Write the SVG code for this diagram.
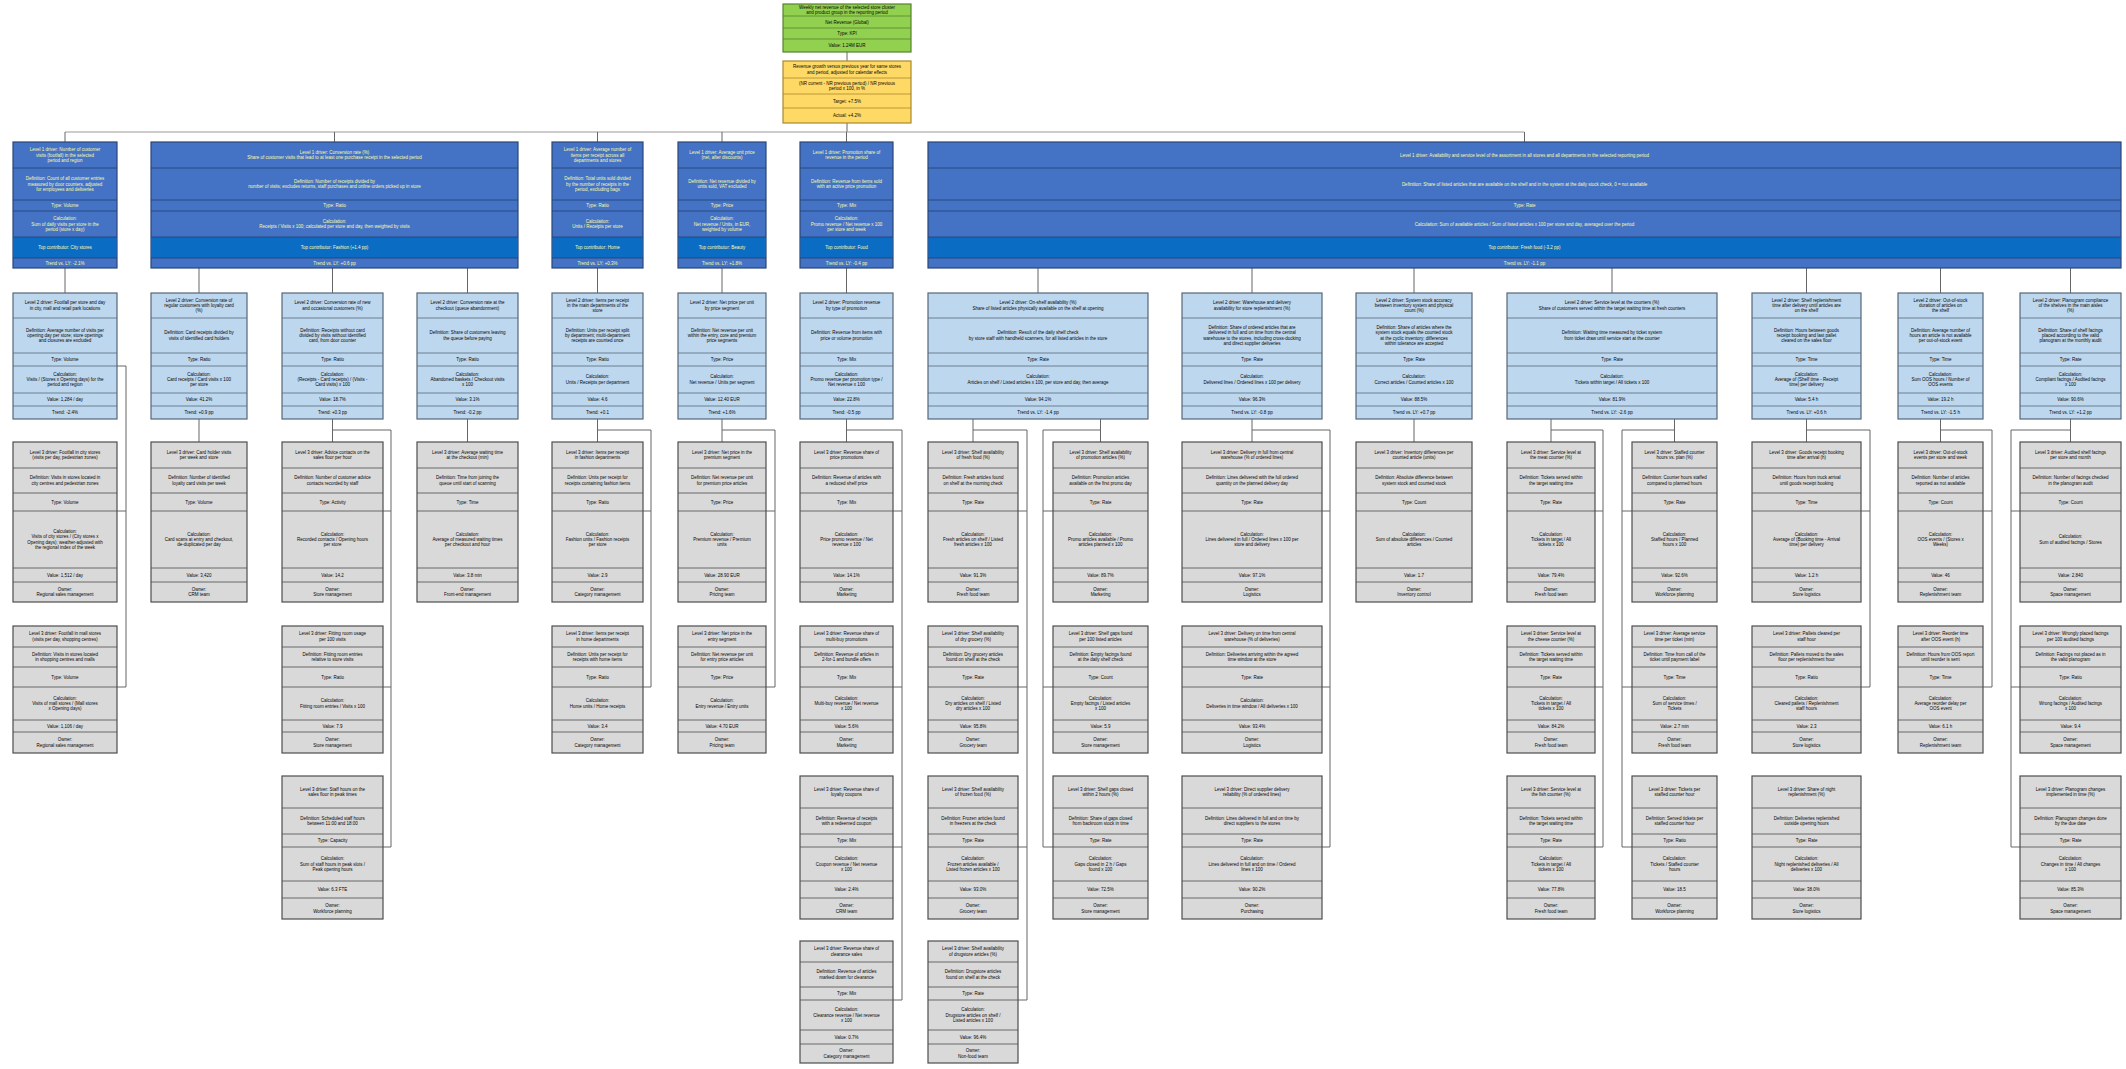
<svg xmlns="http://www.w3.org/2000/svg" width="2126" height="1069" viewBox="0 0 2126 1069">
<style>
text{font-family:"Liberation Sans",Arial,sans-serif;font-size:4.5px;text-anchor:middle;fill:#050505}
.b{stroke:#4d4d4d;stroke-width:1.2}
.gr .b{fill:#d9d9d9}
.lb .b{fill:#bdd7ee;stroke:#56677a}
.bl .b{fill:#4472c4;stroke:#2a4677}
.bl .h{fill:#0b6cc3}
.bl text{fill:#fbfba6}
.gn .b{fill:#92d050;stroke:#55832d}
.ye .b{fill:#ffd966;stroke:#a8892e}
.d{fill:none;stroke:#4d4d4d;stroke-width:.8}
.lb .d{stroke:#56677a}
.bl .d{stroke:#23406e}
.gn .d{stroke:#55832d}
.ye .d{stroke:#a8892e}
.c path{fill:none;stroke:#666;stroke-width:1}
.c path.bus{stroke:#9a9a9a}
</style>
<rect width="2126" height="1069" fill="#fff"/>
<g id="connectors" class="c">
<path d="M847 52V61M847 123V132"/>
<path class="bus" d="M65 132H1524.5"/>
<path d="M65 132V142M334.5 132V142M597.5 132V142M722 132V142M846.5 132V142M1524.5 132V142"/>
<path d="M65 268V293M199 268V293M332.5 268V293M467.5 268V293M597.5 268V293M722 268V293M846.5 268V293M1038 268V293M1252 268V293M1414 268V293M1612 268V293M1806.5 268V293M1940.5 268V293M2070.5 268V293"/>
<path d="M117 366H126V687M117 511H126M117 687H126"/>
<path d="M199 419V442M467.5 419V442M1414 419V442"/>
<path d="M332.5 419V442M332.5 430H391V847M383 511H391M383 687H391M383 847H391"/>
<path d="M597.5 419V442M597.5 430H651V687M643 511H651M643 687H651"/>
<path d="M722 419V442M722 430H775V687M766 511H775M766 687H775"/>
<path d="M846.5 419V442M846.5 430H902V1000M893 511H902M893 687H902M893 847H902M893 1000H902"/>
<path d="M973 419V442M973 430H1027V1000M1018 511H1027M1018 687H1027M1018 847H1027M1018 1000H1027"/>
<path d="M1100.5 419V442M1100.5 430H1043V847M1043 511H1053M1043 687H1053M1043 847H1053"/>
<path d="M1252 419V442M1252 430H1330V847M1322 511H1330M1322 687H1330M1322 847H1330"/>
<path d="M1551 419V442M1551 430H1603V847M1595 511H1603M1595 687H1603M1595 847H1603"/>
<path d="M1674.5 419V442M1674.5 430H1622V847M1622 511H1632M1622 687H1632M1622 847H1632"/>
<path d="M1806.5 419V442M1806.5 430H1870V687M1861 511H1870M1861 687H1870"/>
<path d="M1940.5 419V442M1940.5 430H1992V687M1983 511H1992M1983 687H1992"/>
<path d="M2070.5 419V442M2070.5 430H2011V847M2011 511H2020M2011 687H2020M2011 847H2020"/>
</g>

<g id="n-root" class="gn" transform="translate(847 4)">
<rect class="b" x="-64" width="128" height="48"/>
<path class="d" d="M-64 12H64M-64 24H64M-64 35H64"/>
<text y="4.9">Weekly net revenue of the selected store cluster</text>
<text y="10.1">and product group in the reporting period</text>
<text y="19.5">Net Revenue (Global)</text>
<text y="31">Type: KPI</text>
<text y="43">Value: 1.24M EUR</text>
</g>

<g id="n-growth" class="ye" transform="translate(847 61)">
<rect class="b" x="-64" width="128" height="62"/>
<path class="d" d="M-64 17H64M-64 33H64M-64 47H64"/>
<text y="7.4">Revenue growth versus previous year for same stores</text>
<text y="12.6">and period, adjusted for calendar effects</text>
<text y="23.9">(NR current - NR previous period) / NR previous</text>
<text y="29.1">period x 100, in %</text>
<text y="41.5">Target: +7.5%</text>
<text y="56">Actual: +4.2%</text>
</g>

<g id="n-b1" class="bl" transform="translate(65 142)">
<rect class="b" x="-52" width="104" height="126"/>
<rect class="h" x="-51.4" y="95" width="102.8" height="21"/>
<path class="d" d="M-52 26H52M-52 58H52M-52 69H52M-52 95H52M-52 116H52"/>
<text y="9.3">Level 1 driver: Number of customer</text>
<text y="14.5">visits (footfall) in the selected</text>
<text y="19.7">period and region</text>
<text y="38.3">Definition: Count of all customer entries</text>
<text y="43.5">measured by door counters, adjusted</text>
<text y="48.7">for employees and deliveries</text>
<text y="65">Type: Volume</text>
<text y="78.3">Calculation:</text>
<text y="83.5">Sum of daily visits per store in the</text>
<text y="88.7">period (store x day)</text>
<text y="107">Top contributor: City stores</text>
<text y="122.5">Trend vs. LY: -2.1%</text>
</g>

<g id="n-b2" class="bl" transform="translate(334.5 142)">
<rect class="b" x="-183.5" width="367" height="126"/>
<rect class="h" x="-182.9" y="95" width="365.8" height="21"/>
<path class="d" d="M-183.5 26H183.5M-183.5 58H183.5M-183.5 69H183.5M-183.5 95H183.5M-183.5 116H183.5"/>
<text y="11.9">Level 1 driver: Conversion rate (%)</text>
<text y="17.1">Share of customer visits that lead to at least one purchase receipt in the selected period</text>
<text y="40.9">Definition: Number of receipts divided by</text>
<text y="46.1">number of visits; excludes returns, staff purchases and online orders picked up in store</text>
<text y="65">Type: Ratio</text>
<text y="80.9">Calculation:</text>
<text y="86.1">Receipts / Visits x 100; calculated per store and day, then weighted by visits</text>
<text y="107">Top contributor: Fashion (+1.4 pp)</text>
<text y="122.5">Trend vs. LY: +0.6 pp</text>
</g>

<g id="n-b3" class="bl" transform="translate(597.5 142)">
<rect class="b" x="-45.5" width="91" height="126"/>
<rect class="h" x="-44.9" y="95" width="89.8" height="21"/>
<path class="d" d="M-45.5 26H45.5M-45.5 58H45.5M-45.5 69H45.5M-45.5 95H45.5M-45.5 116H45.5"/>
<text y="9.3">Level 1 driver: Average number of</text>
<text y="14.5">items per receipt across all</text>
<text y="19.7">departments and stores</text>
<text y="38.3">Definition: Total units sold divided</text>
<text y="43.5">by the number of receipts in the</text>
<text y="48.7">period, excluding bags</text>
<text y="65">Type: Ratio</text>
<text y="80.9">Calculation:</text>
<text y="86.1">Units / Receipts per store</text>
<text y="107">Top contributor: Home</text>
<text y="122.5">Trend vs. LY: +0.3%</text>
</g>

<g id="n-b4" class="bl" transform="translate(722 142)">
<rect class="b" x="-44" width="88" height="126"/>
<rect class="h" x="-43.4" y="95" width="86.8" height="21"/>
<path class="d" d="M-44 26H44M-44 58H44M-44 69H44M-44 95H44M-44 116H44"/>
<text y="11.9">Level 1 driver: Average unit price</text>
<text y="17.1">(net, after discounts)</text>
<text y="40.9">Definition: Net revenue divided by</text>
<text y="46.1">units sold, VAT excluded</text>
<text y="65">Type: Price</text>
<text y="78.3">Calculation:</text>
<text y="83.5">Net revenue / Units, in EUR,</text>
<text y="88.7">weighted by volume</text>
<text y="107">Top contributor: Beauty</text>
<text y="122.5">Trend vs. LY: +1.8%</text>
</g>

<g id="n-b5" class="bl" transform="translate(846.5 142)">
<rect class="b" x="-46.5" width="93" height="126"/>
<rect class="h" x="-45.9" y="95" width="91.8" height="21"/>
<path class="d" d="M-46.5 26H46.5M-46.5 58H46.5M-46.5 69H46.5M-46.5 95H46.5M-46.5 116H46.5"/>
<text y="11.9">Level 1 driver: Promotion share of</text>
<text y="17.1">revenue in the period</text>
<text y="40.9">Definition: Revenue from items sold</text>
<text y="46.1">with an active price promotion</text>
<text y="65">Type: Mix</text>
<text y="78.3">Calculation:</text>
<text y="83.5">Promo revenue / Net revenue x 100</text>
<text y="88.7">per store and week</text>
<text y="107">Top contributor: Food</text>
<text y="122.5">Trend vs. LY: -0.4 pp</text>
</g>

<g id="n-b6" class="bl" transform="translate(1524.5 142)">
<rect class="b" x="-596.5" width="1193" height="126"/>
<rect class="h" x="-595.9" y="95" width="1191.8" height="21"/>
<path class="d" d="M-596.5 26H596.5M-596.5 58H596.5M-596.5 69H596.5M-596.5 95H596.5M-596.5 116H596.5"/>
<text y="14.5">Level 1 driver: Availability and service level of the assortment in all stores and all departments in the selected reporting period</text>
<text y="43.5">Definition: Share of listed articles that are available on the shelf and in the system at the daily stock check, 0 = not available</text>
<text y="65">Type: Rate</text>
<text y="83.5">Calculation: Sum of available articles / Sum of listed articles x 100 per store and day, averaged over the period</text>
<text y="107">Top contributor: Fresh food (-3.2 pp)</text>
<text y="122.5">Trend vs. LY: -1.1 pp</text>
</g>

<g id="n-l1" class="lb" transform="translate(65 293)">
<rect class="b" x="-52" width="104" height="126"/>
<path class="d" d="M-52 25H52M-52 60H52M-52 73H52M-52 100H52M-52 113H52"/>
<text y="11.4">Level 2 driver: Footfall per store and day</text>
<text y="16.6">in city, mall and retail park locations</text>
<text y="38.8">Definition: Average number of visits per</text>
<text y="44">opening day per store; store openings</text>
<text y="49.2">and closures are excluded</text>
<text y="68">Type: Volume</text>
<text y="82.8">Calculation:</text>
<text y="88">Visits / (Stores x Opening days) for the</text>
<text y="93.2">period and region</text>
<text y="108">Value: 1,284 / day</text>
<text y="121">Trend: -2.4%</text>
</g>

<g id="n-l2a" class="lb" transform="translate(199 293)">
<rect class="b" x="-48" width="96" height="126"/>
<path class="d" d="M-48 25H48M-48 60H48M-48 73H48M-48 100H48M-48 113H48"/>
<text y="8.8">Level 2 driver: Conversion rate of</text>
<text y="14">regular customers with loyalty card</text>
<text y="19.2">(%)</text>
<text y="41.4">Definition: Card receipts divided by</text>
<text y="46.6">visits of identified card holders</text>
<text y="68">Type: Ratio</text>
<text y="82.8">Calculation:</text>
<text y="88">Card receipts / Card visits x 100</text>
<text y="93.2">per store</text>
<text y="108">Value: 41.2%</text>
<text y="121">Trend: +0.9 pp</text>
</g>

<g id="n-l2b" class="lb" transform="translate(332.5 293)">
<rect class="b" x="-50.5" width="101" height="126"/>
<path class="d" d="M-50.5 25H50.5M-50.5 60H50.5M-50.5 73H50.5M-50.5 100H50.5M-50.5 113H50.5"/>
<text y="11.4">Level 2 driver: Conversion rate of new</text>
<text y="16.6">and occasional customers (%)</text>
<text y="38.8">Definition: Receipts without card</text>
<text y="44">divided by visits without identified</text>
<text y="49.2">card, from door counter</text>
<text y="68">Type: Ratio</text>
<text y="82.8">Calculation:</text>
<text y="88">(Receipts - Card receipts) / (Visits -</text>
<text y="93.2">Card visits) x 100</text>
<text y="108">Value: 18.7%</text>
<text y="121">Trend: +0.3 pp</text>
</g>

<g id="n-l2c" class="lb" transform="translate(467.5 293)">
<rect class="b" x="-50.5" width="101" height="126"/>
<path class="d" d="M-50.5 25H50.5M-50.5 60H50.5M-50.5 73H50.5M-50.5 100H50.5M-50.5 113H50.5"/>
<text y="11.4">Level 2 driver: Conversion rate at the</text>
<text y="16.6">checkout (queue abandonment)</text>
<text y="41.4">Definition: Share of customers leaving</text>
<text y="46.6">the queue before paying</text>
<text y="68">Type: Ratio</text>
<text y="82.8">Calculation:</text>
<text y="88">Abandoned baskets / Checkout visits</text>
<text y="93.2">x 100</text>
<text y="108">Value: 3.1%</text>
<text y="121">Trend: -0.2 pp</text>
</g>

<g id="n-l3" class="lb" transform="translate(597.5 293)">
<rect class="b" x="-45.5" width="91" height="126"/>
<path class="d" d="M-45.5 25H45.5M-45.5 60H45.5M-45.5 73H45.5M-45.5 100H45.5M-45.5 113H45.5"/>
<text y="8.8">Level 2 driver: Items per receipt</text>
<text y="14">in the main departments of the</text>
<text y="19.2">store</text>
<text y="38.8">Definition: Units per receipt split</text>
<text y="44">by department; multi-department</text>
<text y="49.2">receipts are counted once</text>
<text y="68">Type: Ratio</text>
<text y="85.4">Calculation:</text>
<text y="90.6">Units / Receipts per department</text>
<text y="108">Value: 4.6</text>
<text y="121">Trend: +0.1</text>
</g>

<g id="n-l4" class="lb" transform="translate(722 293)">
<rect class="b" x="-44" width="88" height="126"/>
<path class="d" d="M-44 25H44M-44 60H44M-44 73H44M-44 100H44M-44 113H44"/>
<text y="11.4">Level 2 driver: Net price per unit</text>
<text y="16.6">by price segment</text>
<text y="38.8">Definition: Net revenue per unit</text>
<text y="44">within the entry, core and premium</text>
<text y="49.2">price segments</text>
<text y="68">Type: Price</text>
<text y="85.4">Calculation:</text>
<text y="90.6">Net revenue / Units per segment</text>
<text y="108">Value: 12.40 EUR</text>
<text y="121">Trend: +1.6%</text>
</g>

<g id="n-l5" class="lb" transform="translate(846.5 293)">
<rect class="b" x="-46.5" width="93" height="126"/>
<path class="d" d="M-46.5 25H46.5M-46.5 60H46.5M-46.5 73H46.5M-46.5 100H46.5M-46.5 113H46.5"/>
<text y="11.4">Level 2 driver: Promotion revenue</text>
<text y="16.6">by type of promotion</text>
<text y="41.4">Definition: Revenue from items with</text>
<text y="46.6">price or volume promotion</text>
<text y="68">Type: Mix</text>
<text y="82.8">Calculation:</text>
<text y="88">Promo revenue per promotion type /</text>
<text y="93.2">Net revenue x 100</text>
<text y="108">Value: 22.8%</text>
<text y="121">Trend: -0.5 pp</text>
</g>

<g id="n-l6a" class="lb" transform="translate(1038 293)">
<rect class="b" x="-110" width="220" height="126"/>
<path class="d" d="M-110 25H110M-110 60H110M-110 73H110M-110 100H110M-110 113H110"/>
<text y="11.4">Level 2 driver: On-shelf availability (%)</text>
<text y="16.6">Share of listed articles physically available on the shelf at opening</text>
<text y="41.4">Definition: Result of the daily shelf check</text>
<text y="46.6">by store staff with handheld scanners, for all listed articles in the store</text>
<text y="68">Type: Rate</text>
<text y="85.4">Calculation:</text>
<text y="90.6">Articles on shelf / Listed articles x 100, per store and day, then average</text>
<text y="108">Value: 94.1%</text>
<text y="121">Trend vs. LY: -1.4 pp</text>
</g>

<g id="n-l6b" class="lb" transform="translate(1252 293)">
<rect class="b" x="-70" width="140" height="126"/>
<path class="d" d="M-70 25H70M-70 60H70M-70 73H70M-70 100H70M-70 113H70"/>
<text y="11.4">Level 2 driver: Warehouse and delivery</text>
<text y="16.6">availability for store replenishment (%)</text>
<text y="36.2">Definition: Share of ordered articles that are</text>
<text y="41.4">delivered in full and on time from the central</text>
<text y="46.6">warehouse to the stores, including cross-docking</text>
<text y="51.8">and direct supplier deliveries</text>
<text y="68">Type: Rate</text>
<text y="85.4">Calculation:</text>
<text y="90.6">Delivered lines / Ordered lines x 100 per delivery</text>
<text y="108">Value: 96.3%</text>
<text y="121">Trend vs. LY: -0.8 pp</text>
</g>

<g id="n-l6c" class="lb" transform="translate(1414 293)">
<rect class="b" x="-58" width="116" height="126"/>
<path class="d" d="M-58 25H58M-58 60H58M-58 73H58M-58 100H58M-58 113H58"/>
<text y="8.8">Level 2 driver: System stock accuracy</text>
<text y="14">between inventory system and physical</text>
<text y="19.2">count (%)</text>
<text y="36.2">Definition: Share of articles where the</text>
<text y="41.4">system stock equals the counted stock</text>
<text y="46.6">at the cyclic inventory; differences</text>
<text y="51.8">within tolerance are accepted</text>
<text y="68">Type: Rate</text>
<text y="85.4">Calculation:</text>
<text y="90.6">Correct articles / Counted articles x 100</text>
<text y="108">Value: 88.5%</text>
<text y="121">Trend vs. LY: +0.7 pp</text>
</g>

<g id="n-l6d" class="lb" transform="translate(1612 293)">
<rect class="b" x="-105" width="210" height="126"/>
<path class="d" d="M-105 25H105M-105 60H105M-105 73H105M-105 100H105M-105 113H105"/>
<text y="11.4">Level 2 driver: Service level at the counters (%)</text>
<text y="16.6">Share of customers served within the target waiting time at fresh counters</text>
<text y="41.4">Definition: Waiting time measured by ticket system</text>
<text y="46.6">from ticket draw until service start at the counter</text>
<text y="68">Type: Rate</text>
<text y="85.4">Calculation:</text>
<text y="90.6">Tickets within target / All tickets x 100</text>
<text y="108">Value: 81.9%</text>
<text y="121">Trend vs. LY: -2.6 pp</text>
</g>

<g id="n-l6e" class="lb" transform="translate(1806.5 293)">
<rect class="b" x="-54.5" width="109" height="126"/>
<path class="d" d="M-54.5 25H54.5M-54.5 60H54.5M-54.5 73H54.5M-54.5 100H54.5M-54.5 113H54.5"/>
<text y="8.8">Level 2 driver: Shelf replenishment</text>
<text y="14">time after delivery until articles are</text>
<text y="19.2">on the shelf</text>
<text y="38.8">Definition: Hours between goods</text>
<text y="44">receipt booking and last pallet</text>
<text y="49.2">cleared on the sales floor</text>
<text y="68">Type: Time</text>
<text y="82.8">Calculation:</text>
<text y="88">Average of (Shelf time - Receipt</text>
<text y="93.2">time) per delivery</text>
<text y="108">Value: 5.4 h</text>
<text y="121">Trend vs. LY: +0.6 h</text>
</g>

<g id="n-l6f" class="lb" transform="translate(1940.5 293)">
<rect class="b" x="-42.5" width="85" height="126"/>
<path class="d" d="M-42.5 25H42.5M-42.5 60H42.5M-42.5 73H42.5M-42.5 100H42.5M-42.5 113H42.5"/>
<text y="8.8">Level 2 driver: Out-of-stock</text>
<text y="14">duration of articles on</text>
<text y="19.2">the shelf</text>
<text y="38.8">Definition: Average number of</text>
<text y="44">hours an article is not available</text>
<text y="49.2">per out-of-stock event</text>
<text y="68">Type: Time</text>
<text y="82.8">Calculation:</text>
<text y="88">Sum OOS hours / Number of</text>
<text y="93.2">OOS events</text>
<text y="108">Value: 19.2 h</text>
<text y="121">Trend vs. LY: -1.5 h</text>
</g>

<g id="n-l6g" class="lb" transform="translate(2070.5 293)">
<rect class="b" x="-50.5" width="101" height="126"/>
<path class="d" d="M-50.5 25H50.5M-50.5 60H50.5M-50.5 73H50.5M-50.5 100H50.5M-50.5 113H50.5"/>
<text y="8.8">Level 2 driver: Planogram compliance</text>
<text y="14">of the shelves in the main aisles</text>
<text y="19.2">(%)</text>
<text y="38.8">Definition: Share of shelf facings</text>
<text y="44">placed according to the valid</text>
<text y="49.2">planogram at the monthly audit</text>
<text y="68">Type: Rate</text>
<text y="82.8">Calculation:</text>
<text y="88">Compliant facings / Audited facings</text>
<text y="93.2">x 100</text>
<text y="108">Value: 90.6%</text>
<text y="121">Trend vs. LY: +1.2 pp</text>
</g>

<!-- Level 3, row 1 (top 442) -->
<g id="n-c1-1" class="gr" transform="translate(65 442)">
<rect class="b" x="-52" width="104" height="160"/>
<path class="d" d="M-52 26H52M-52 51H52M-52 69H52M-52 126H52M-52 140H52"/>
<text y="11.9">Level 3 driver: Footfall in city stores</text>
<text y="17.1">(visits per day, pedestrian zones)</text>
<text y="37.4">Definition: Visits in stores located in</text>
<text y="42.6">city centres and pedestrian zones</text>
<text y="61.5">Type: Volume</text>
<text y="91.2">Calculation:</text>
<text y="96.4">Visits of city stores / (City stores x</text>
<text y="101.6">Opening days); weather-adjusted with</text>
<text y="106.8">the regional index of the week</text>
<text y="134.5">Value: 1,512 / day</text>
<text y="148.9">Owner:</text>
<text y="154.1">Regional sales management</text>
</g>
<g id="n-c2-1" class="gr" transform="translate(199 442)">
<rect class="b" x="-48" width="96" height="160"/>
<path class="d" d="M-48 26H48M-48 51H48M-48 69H48M-48 126H48M-48 140H48"/>
<text y="11.9">Level 3 driver: Card holder visits</text>
<text y="17.1">per week and store</text>
<text y="37.4">Definition: Number of identified</text>
<text y="42.6">loyalty card visits per week</text>
<text y="61.5">Type: Volume</text>
<text y="93.8">Calculation:</text>
<text y="99">Card scans at entry and checkout,</text>
<text y="104.2">de-duplicated per day</text>
<text y="134.5">Value: 3,420</text>
<text y="148.9">Owner:</text>
<text y="154.1">CRM team</text>
</g>
<g id="n-c3-1" class="gr" transform="translate(332.5 442)">
<rect class="b" x="-50.5" width="101" height="160"/>
<path class="d" d="M-50.5 26H50.5M-50.5 51H50.5M-50.5 69H50.5M-50.5 126H50.5M-50.5 140H50.5"/>
<text y="11.9">Level 3 driver: Advice contacts on the</text>
<text y="17.1">sales floor per hour</text>
<text y="37.4">Definition: Number of customer advice</text>
<text y="42.6">contacts recorded by staff</text>
<text y="61.5">Type: Activity</text>
<text y="93.8">Calculation:</text>
<text y="99">Recorded contacts / Opening hours</text>
<text y="104.2">per store</text>
<text y="134.5">Value: 14.2</text>
<text y="148.9">Owner:</text>
<text y="154.1">Store management</text>
</g>
<g id="n-c4-1" class="gr" transform="translate(467.5 442)">
<rect class="b" x="-50.5" width="101" height="160"/>
<path class="d" d="M-50.5 26H50.5M-50.5 51H50.5M-50.5 69H50.5M-50.5 126H50.5M-50.5 140H50.5"/>
<text y="11.9">Level 3 driver: Average waiting time</text>
<text y="17.1">at the checkout (min)</text>
<text y="37.4">Definition: Time from joining the</text>
<text y="42.6">queue until start of scanning</text>
<text y="61.5">Type: Time</text>
<text y="93.8">Calculation:</text>
<text y="99">Average of measured waiting times</text>
<text y="104.2">per checkout and hour</text>
<text y="134.5">Value: 3.8 min</text>
<text y="148.9">Owner:</text>
<text y="154.1">Front-end management</text>
</g>
<g id="n-c5-1" class="gr" transform="translate(597.5 442)">
<rect class="b" x="-45.5" width="91" height="160"/>
<path class="d" d="M-45.5 26H45.5M-45.5 51H45.5M-45.5 69H45.5M-45.5 126H45.5M-45.5 140H45.5"/>
<text y="11.9">Level 3 driver: Items per receipt</text>
<text y="17.1">in fashion departments</text>
<text y="37.4">Definition: Units per receipt for</text>
<text y="42.6">receipts containing fashion items</text>
<text y="61.5">Type: Ratio</text>
<text y="93.8">Calculation:</text>
<text y="99">Fashion units / Fashion receipts</text>
<text y="104.2">per store</text>
<text y="134.5">Value: 2.9</text>
<text y="148.9">Owner:</text>
<text y="154.1">Category management</text>
</g>
<g id="n-c6-1" class="gr" transform="translate(722 442)">
<rect class="b" x="-44" width="88" height="160"/>
<path class="d" d="M-44 26H44M-44 51H44M-44 69H44M-44 126H44M-44 140H44"/>
<text y="11.9">Level 3 driver: Net price in the</text>
<text y="17.1">premium segment</text>
<text y="37.4">Definition: Net revenue per unit</text>
<text y="42.6">for premium price articles</text>
<text y="61.5">Type: Price</text>
<text y="93.8">Calculation:</text>
<text y="99">Premium revenue / Premium</text>
<text y="104.2">units</text>
<text y="134.5">Value: 28.90 EUR</text>
<text y="148.9">Owner:</text>
<text y="154.1">Pricing team</text>
</g>
<g id="n-c7-1" class="gr" transform="translate(846.5 442)">
<rect class="b" x="-46.5" width="93" height="160"/>
<path class="d" d="M-46.5 26H46.5M-46.5 51H46.5M-46.5 69H46.5M-46.5 126H46.5M-46.5 140H46.5"/>
<text y="11.9">Level 3 driver: Revenue share of</text>
<text y="17.1">price promotions</text>
<text y="37.4">Definition: Revenue of articles with</text>
<text y="42.6">a reduced shelf price</text>
<text y="61.5">Type: Mix</text>
<text y="93.8">Calculation:</text>
<text y="99">Price promo revenue / Net</text>
<text y="104.2">revenue x 100</text>
<text y="134.5">Value: 14.1%</text>
<text y="148.9">Owner:</text>
<text y="154.1">Marketing</text>
</g>
<g id="n-c8-1" class="gr" transform="translate(973 442)">
<rect class="b" x="-45" width="90" height="160"/>
<path class="d" d="M-45 26H45M-45 51H45M-45 69H45M-45 126H45M-45 140H45"/>
<text y="11.9">Level 3 driver: Shelf availability</text>
<text y="17.1">of fresh food (%)</text>
<text y="37.4">Definition: Fresh articles found</text>
<text y="42.6">on shelf at the morning check</text>
<text y="61.5">Type: Rate</text>
<text y="93.8">Calculation:</text>
<text y="99">Fresh articles on shelf / Listed</text>
<text y="104.2">fresh articles x 100</text>
<text y="134.5">Value: 91.3%</text>
<text y="148.9">Owner:</text>
<text y="154.1">Fresh food team</text>
</g>
<g id="n-c9-1" class="gr" transform="translate(1100.5 442)">
<rect class="b" x="-47.5" width="95" height="160"/>
<path class="d" d="M-47.5 26H47.5M-47.5 51H47.5M-47.5 69H47.5M-47.5 126H47.5M-47.5 140H47.5"/>
<text y="11.9">Level 3 driver: Shelf availability</text>
<text y="17.1">of promotion articles (%)</text>
<text y="37.4">Definition: Promotion articles</text>
<text y="42.6">available on the first promo day</text>
<text y="61.5">Type: Rate</text>
<text y="93.8">Calculation:</text>
<text y="99">Promo articles available / Promo</text>
<text y="104.2">articles planned x 100</text>
<text y="134.5">Value: 89.7%</text>
<text y="148.9">Owner:</text>
<text y="154.1">Marketing</text>
</g>
<g id="n-c10-1" class="gr" transform="translate(1252 442)">
<rect class="b" x="-70" width="140" height="160"/>
<path class="d" d="M-70 26H70M-70 51H70M-70 69H70M-70 126H70M-70 140H70"/>
<text y="11.9">Level 3 driver: Delivery in full from central</text>
<text y="17.1">warehouse (% of ordered lines)</text>
<text y="37.4">Definition: Lines delivered with the full ordered</text>
<text y="42.6">quantity on the planned delivery day</text>
<text y="61.5">Type: Rate</text>
<text y="93.8">Calculation:</text>
<text y="99">Lines delivered in full / Ordered lines x 100 per</text>
<text y="104.2">store and delivery</text>
<text y="134.5">Value: 97.1%</text>
<text y="148.9">Owner:</text>
<text y="154.1">Logistics</text>
</g>
<g id="n-c11-1" class="gr" transform="translate(1414 442)">
<rect class="b" x="-58" width="116" height="160"/>
<path class="d" d="M-58 26H58M-58 51H58M-58 69H58M-58 126H58M-58 140H58"/>
<text y="11.9">Level 3 driver: Inventory differences per</text>
<text y="17.1">counted article (units)</text>
<text y="37.4">Definition: Absolute difference between</text>
<text y="42.6">system stock and counted stock</text>
<text y="61.5">Type: Count</text>
<text y="93.8">Calculation:</text>
<text y="99">Sum of absolute differences / Counted</text>
<text y="104.2">articles</text>
<text y="134.5">Value: 1.7</text>
<text y="148.9">Owner:</text>
<text y="154.1">Inventory control</text>
</g>
<g id="n-c12-1" class="gr" transform="translate(1551 442)">
<rect class="b" x="-44" width="88" height="160"/>
<path class="d" d="M-44 26H44M-44 51H44M-44 69H44M-44 126H44M-44 140H44"/>
<text y="11.9">Level 3 driver: Service level at</text>
<text y="17.1">the meat counter (%)</text>
<text y="37.4">Definition: Tickets served within</text>
<text y="42.6">the target waiting time</text>
<text y="61.5">Type: Rate</text>
<text y="93.8">Calculation:</text>
<text y="99">Tickets in target / All</text>
<text y="104.2">tickets x 100</text>
<text y="134.5">Value: 79.4%</text>
<text y="148.9">Owner:</text>
<text y="154.1">Fresh food team</text>
</g>
<g id="n-c13-1" class="gr" transform="translate(1674.5 442)">
<rect class="b" x="-42.5" width="85" height="160"/>
<path class="d" d="M-42.5 26H42.5M-42.5 51H42.5M-42.5 69H42.5M-42.5 126H42.5M-42.5 140H42.5"/>
<text y="11.9">Level 3 driver: Staffed counter</text>
<text y="17.1">hours vs. plan (%)</text>
<text y="37.4">Definition: Counter hours staffed</text>
<text y="42.6">compared to planned hours</text>
<text y="61.5">Type: Rate</text>
<text y="93.8">Calculation:</text>
<text y="99">Staffed hours / Planned</text>
<text y="104.2">hours x 100</text>
<text y="134.5">Value: 92.6%</text>
<text y="148.9">Owner:</text>
<text y="154.1">Workforce planning</text>
</g>
<g id="n-c14-1" class="gr" transform="translate(1806.5 442)">
<rect class="b" x="-54.5" width="109" height="160"/>
<path class="d" d="M-54.5 26H54.5M-54.5 51H54.5M-54.5 69H54.5M-54.5 126H54.5M-54.5 140H54.5"/>
<text y="11.9">Level 3 driver: Goods receipt booking</text>
<text y="17.1">time after arrival (h)</text>
<text y="37.4">Definition: Hours from truck arrival</text>
<text y="42.6">until goods receipt booking</text>
<text y="61.5">Type: Time</text>
<text y="93.8">Calculation:</text>
<text y="99">Average of (Booking time - Arrival</text>
<text y="104.2">time) per delivery</text>
<text y="134.5">Value: 1.2 h</text>
<text y="148.9">Owner:</text>
<text y="154.1">Store logistics</text>
</g>
<g id="n-c15-1" class="gr" transform="translate(1940.5 442)">
<rect class="b" x="-42.5" width="85" height="160"/>
<path class="d" d="M-42.5 26H42.5M-42.5 51H42.5M-42.5 69H42.5M-42.5 126H42.5M-42.5 140H42.5"/>
<text y="11.9">Level 3 driver: Out-of-stock</text>
<text y="17.1">events per store and week</text>
<text y="37.4">Definition: Number of articles</text>
<text y="42.6">reported as not available</text>
<text y="61.5">Type: Count</text>
<text y="93.8">Calculation:</text>
<text y="99">OOS events / (Stores x</text>
<text y="104.2">Weeks)</text>
<text y="134.5">Value: 46</text>
<text y="148.9">Owner:</text>
<text y="154.1">Replenishment team</text>
</g>
<g id="n-c16-1" class="gr" transform="translate(2070.5 442)">
<rect class="b" x="-50.5" width="101" height="160"/>
<path class="d" d="M-50.5 26H50.5M-50.5 51H50.5M-50.5 69H50.5M-50.5 126H50.5M-50.5 140H50.5"/>
<text y="11.9">Level 3 driver: Audited shelf facings</text>
<text y="17.1">per store and month</text>
<text y="37.4">Definition: Number of facings checked</text>
<text y="42.6">in the planogram audit</text>
<text y="61.5">Type: Count</text>
<text y="96.4">Calculation:</text>
<text y="101.6">Sum of audited facings / Stores</text>
<text y="134.5">Value: 2,840</text>
<text y="148.9">Owner:</text>
<text y="154.1">Space management</text>
</g>

<!-- Level 3, row 2 (top 626) -->
<g id="n-c1-2" class="gr" transform="translate(65 626)">
<rect class="b" x="-52" width="104" height="127"/>
<path class="d" d="M-52 21H52M-52 41H52M-52 61H52M-52 94H52M-52 106H52"/>
<text y="9.4">Level 3 driver: Footfall in mall stores</text>
<text y="14.6">(visits per day, shopping centres)</text>
<text y="29.9">Definition: Visits in stores located</text>
<text y="35.1">in shopping centres and malls</text>
<text y="52.5">Type: Volume</text>
<text y="73.7">Calculation:</text>
<text y="78.9">Visits of mall stores / (Mall stores</text>
<text y="84.1">x Opening days)</text>
<text y="101.5">Value: 1,106 / day</text>
<text y="115.4">Owner:</text>
<text y="120.6">Regional sales management</text>
</g>
<g id="n-c3-2" class="gr" transform="translate(332.5 626)">
<rect class="b" x="-50.5" width="101" height="127"/>
<path class="d" d="M-50.5 21H50.5M-50.5 41H50.5M-50.5 61H50.5M-50.5 94H50.5M-50.5 106H50.5"/>
<text y="9.4">Level 3 driver: Fitting room usage</text>
<text y="14.6">per 100 visits</text>
<text y="29.9">Definition: Fitting room entries</text>
<text y="35.1">relative to store visits</text>
<text y="52.5">Type: Ratio</text>
<text y="76.3">Calculation:</text>
<text y="81.5">Fitting room entries / Visits x 100</text>
<text y="101.5">Value: 7.9</text>
<text y="115.4">Owner:</text>
<text y="120.6">Store management</text>
</g>
<g id="n-c5-2" class="gr" transform="translate(597.5 626)">
<rect class="b" x="-45.5" width="91" height="127"/>
<path class="d" d="M-45.5 21H45.5M-45.5 41H45.5M-45.5 61H45.5M-45.5 94H45.5M-45.5 106H45.5"/>
<text y="9.4">Level 3 driver: Items per receipt</text>
<text y="14.6">in home departments</text>
<text y="29.9">Definition: Units per receipt for</text>
<text y="35.1">receipts with home items</text>
<text y="52.5">Type: Ratio</text>
<text y="76.3">Calculation:</text>
<text y="81.5">Home units / Home receipts</text>
<text y="101.5">Value: 3.4</text>
<text y="115.4">Owner:</text>
<text y="120.6">Category management</text>
</g>
<g id="n-c6-2" class="gr" transform="translate(722 626)">
<rect class="b" x="-44" width="88" height="127"/>
<path class="d" d="M-44 21H44M-44 41H44M-44 61H44M-44 94H44M-44 106H44"/>
<text y="9.4">Level 3 driver: Net price in the</text>
<text y="14.6">entry segment</text>
<text y="29.9">Definition: Net revenue per unit</text>
<text y="35.1">for entry price articles</text>
<text y="52.5">Type: Price</text>
<text y="76.3">Calculation:</text>
<text y="81.5">Entry revenue / Entry units</text>
<text y="101.5">Value: 4.70 EUR</text>
<text y="115.4">Owner:</text>
<text y="120.6">Pricing team</text>
</g>
<g id="n-c7-2" class="gr" transform="translate(846.5 626)">
<rect class="b" x="-46.5" width="93" height="127"/>
<path class="d" d="M-46.5 21H46.5M-46.5 41H46.5M-46.5 61H46.5M-46.5 94H46.5M-46.5 106H46.5"/>
<text y="9.4">Level 3 driver: Revenue share of</text>
<text y="14.6">multi-buy promotions</text>
<text y="29.9">Definition: Revenue of articles in</text>
<text y="35.1">2-for-1 and bundle offers</text>
<text y="52.5">Type: Mix</text>
<text y="73.7">Calculation:</text>
<text y="78.9">Multi-buy revenue / Net revenue</text>
<text y="84.1">x 100</text>
<text y="101.5">Value: 5.6%</text>
<text y="115.4">Owner:</text>
<text y="120.6">Marketing</text>
</g>
<g id="n-c8-2" class="gr" transform="translate(973 626)">
<rect class="b" x="-45" width="90" height="127"/>
<path class="d" d="M-45 21H45M-45 41H45M-45 61H45M-45 94H45M-45 106H45"/>
<text y="9.4">Level 3 driver: Shelf availability</text>
<text y="14.6">of dry grocery (%)</text>
<text y="29.9">Definition: Dry grocery articles</text>
<text y="35.1">found on shelf at the check</text>
<text y="52.5">Type: Rate</text>
<text y="73.7">Calculation:</text>
<text y="78.9">Dry articles on shelf / Listed</text>
<text y="84.1">dry articles x 100</text>
<text y="101.5">Value: 95.8%</text>
<text y="115.4">Owner:</text>
<text y="120.6">Grocery team</text>
</g>
<g id="n-c9-2" class="gr" transform="translate(1100.5 626)">
<rect class="b" x="-47.5" width="95" height="127"/>
<path class="d" d="M-47.5 21H47.5M-47.5 41H47.5M-47.5 61H47.5M-47.5 94H47.5M-47.5 106H47.5"/>
<text y="9.4">Level 3 driver: Shelf gaps found</text>
<text y="14.6">per 100 listed articles</text>
<text y="29.9">Definition: Empty facings found</text>
<text y="35.1">at the daily shelf check</text>
<text y="52.5">Type: Count</text>
<text y="73.7">Calculation:</text>
<text y="78.9">Empty facings / Listed articles</text>
<text y="84.1">x 100</text>
<text y="101.5">Value: 5.9</text>
<text y="115.4">Owner:</text>
<text y="120.6">Store management</text>
</g>
<g id="n-c10-2" class="gr" transform="translate(1252 626)">
<rect class="b" x="-70" width="140" height="127"/>
<path class="d" d="M-70 21H70M-70 41H70M-70 61H70M-70 94H70M-70 106H70"/>
<text y="9.4">Level 3 driver: Delivery on time from central</text>
<text y="14.6">warehouse (% of deliveries)</text>
<text y="29.9">Definition: Deliveries arriving within the agreed</text>
<text y="35.1">time window at the store</text>
<text y="52.5">Type: Rate</text>
<text y="76.3">Calculation:</text>
<text y="81.5">Deliveries in time window / All deliveries x 100</text>
<text y="101.5">Value: 93.4%</text>
<text y="115.4">Owner:</text>
<text y="120.6">Logistics</text>
</g>
<g id="n-c12-2" class="gr" transform="translate(1551 626)">
<rect class="b" x="-44" width="88" height="127"/>
<path class="d" d="M-44 21H44M-44 41H44M-44 61H44M-44 94H44M-44 106H44"/>
<text y="9.4">Level 3 driver: Service level at</text>
<text y="14.6">the cheese counter (%)</text>
<text y="29.9">Definition: Tickets served within</text>
<text y="35.1">the target waiting time</text>
<text y="52.5">Type: Rate</text>
<text y="73.7">Calculation:</text>
<text y="78.9">Tickets in target / All</text>
<text y="84.1">tickets x 100</text>
<text y="101.5">Value: 84.2%</text>
<text y="115.4">Owner:</text>
<text y="120.6">Fresh food team</text>
</g>
<g id="n-c13-2" class="gr" transform="translate(1674.5 626)">
<rect class="b" x="-42.5" width="85" height="127"/>
<path class="d" d="M-42.5 21H42.5M-42.5 41H42.5M-42.5 61H42.5M-42.5 94H42.5M-42.5 106H42.5"/>
<text y="9.4">Level 3 driver: Average service</text>
<text y="14.6">time per ticket (min)</text>
<text y="29.9">Definition: Time from call of the</text>
<text y="35.1">ticket until payment label</text>
<text y="52.5">Type: Time</text>
<text y="73.7">Calculation:</text>
<text y="78.9">Sum of service times /</text>
<text y="84.1">Tickets</text>
<text y="101.5">Value: 2.7 min</text>
<text y="115.4">Owner:</text>
<text y="120.6">Fresh food team</text>
</g>
<g id="n-c14-2" class="gr" transform="translate(1806.5 626)">
<rect class="b" x="-54.5" width="109" height="127"/>
<path class="d" d="M-54.5 21H54.5M-54.5 41H54.5M-54.5 61H54.5M-54.5 94H54.5M-54.5 106H54.5"/>
<text y="9.4">Level 3 driver: Pallets cleared per</text>
<text y="14.6">staff hour</text>
<text y="29.9">Definition: Pallets moved to the sales</text>
<text y="35.1">floor per replenishment hour</text>
<text y="52.5">Type: Ratio</text>
<text y="73.7">Calculation:</text>
<text y="78.9">Cleared pallets / Replenishment</text>
<text y="84.1">staff hours</text>
<text y="101.5">Value: 2.3</text>
<text y="115.4">Owner:</text>
<text y="120.6">Store logistics</text>
</g>
<g id="n-c15-2" class="gr" transform="translate(1940.5 626)">
<rect class="b" x="-42.5" width="85" height="127"/>
<path class="d" d="M-42.5 21H42.5M-42.5 41H42.5M-42.5 61H42.5M-42.5 94H42.5M-42.5 106H42.5"/>
<text y="9.4">Level 3 driver: Reorder time</text>
<text y="14.6">after OOS event (h)</text>
<text y="29.9">Definition: Hours from OOS report</text>
<text y="35.1">until reorder is sent</text>
<text y="52.5">Type: Time</text>
<text y="73.7">Calculation:</text>
<text y="78.9">Average reorder delay per</text>
<text y="84.1">OOS event</text>
<text y="101.5">Value: 6.1 h</text>
<text y="115.4">Owner:</text>
<text y="120.6">Replenishment team</text>
</g>
<g id="n-c16-2" class="gr" transform="translate(2070.5 626)">
<rect class="b" x="-50.5" width="101" height="127"/>
<path class="d" d="M-50.5 21H50.5M-50.5 41H50.5M-50.5 61H50.5M-50.5 94H50.5M-50.5 106H50.5"/>
<text y="9.4">Level 3 driver: Wrongly placed facings</text>
<text y="14.6">per 100 audited facings</text>
<text y="29.9">Definition: Facings not placed as in</text>
<text y="35.1">the valid planogram</text>
<text y="52.5">Type: Ratio</text>
<text y="73.7">Calculation:</text>
<text y="78.9">Wrong facings / Audited facings</text>
<text y="84.1">x 100</text>
<text y="101.5">Value: 9.4</text>
<text y="115.4">Owner:</text>
<text y="120.6">Space management</text>
</g>

<!-- Level 3, row 3 (top 776) -->
<g id="n-c3-3" class="gr" transform="translate(332.5 776)">
<rect class="b" x="-50.5" width="101" height="143"/>
<path class="d" d="M-50.5 32H50.5M-50.5 58H50.5M-50.5 71H50.5M-50.5 105H50.5M-50.5 122H50.5"/>
<text y="14.9">Level 3 driver: Staff hours on the</text>
<text y="20.1">sales floor in peak times</text>
<text y="43.9">Definition: Scheduled staff hours</text>
<text y="49.1">between 11:00 and 18:00</text>
<text y="66">Type: Capacity</text>
<text y="84.3">Calculation:</text>
<text y="89.5">Sum of staff hours in peak slots /</text>
<text y="94.7">Peak opening hours</text>
<text y="115">Value: 6.3 FTE</text>
<text y="131.4">Owner:</text>
<text y="136.6">Workforce planning</text>
</g>
<g id="n-c7-3" class="gr" transform="translate(846.5 776)">
<rect class="b" x="-46.5" width="93" height="143"/>
<path class="d" d="M-46.5 32H46.5M-46.5 58H46.5M-46.5 71H46.5M-46.5 105H46.5M-46.5 122H46.5"/>
<text y="14.9">Level 3 driver: Revenue share of</text>
<text y="20.1">loyalty coupons</text>
<text y="43.9">Definition: Revenue of receipts</text>
<text y="49.1">with a redeemed coupon</text>
<text y="66">Type: Mix</text>
<text y="84.3">Calculation:</text>
<text y="89.5">Coupon revenue / Net revenue</text>
<text y="94.7">x 100</text>
<text y="115">Value: 2.4%</text>
<text y="131.4">Owner:</text>
<text y="136.6">CRM team</text>
</g>
<g id="n-c8-3" class="gr" transform="translate(973 776)">
<rect class="b" x="-45" width="90" height="143"/>
<path class="d" d="M-45 32H45M-45 58H45M-45 71H45M-45 105H45M-45 122H45"/>
<text y="14.9">Level 3 driver: Shelf availability</text>
<text y="20.1">of frozen food (%)</text>
<text y="43.9">Definition: Frozen articles found</text>
<text y="49.1">in freezers at the check</text>
<text y="66">Type: Rate</text>
<text y="84.3">Calculation:</text>
<text y="89.5">Frozen articles available /</text>
<text y="94.7">Listed frozen articles x 100</text>
<text y="115">Value: 93.0%</text>
<text y="131.4">Owner:</text>
<text y="136.6">Grocery team</text>
</g>
<g id="n-c9-3" class="gr" transform="translate(1100.5 776)">
<rect class="b" x="-47.5" width="95" height="143"/>
<path class="d" d="M-47.5 32H47.5M-47.5 58H47.5M-47.5 71H47.5M-47.5 105H47.5M-47.5 122H47.5"/>
<text y="14.9">Level 3 driver: Shelf gaps closed</text>
<text y="20.1">within 2 hours (%)</text>
<text y="43.9">Definition: Share of gaps closed</text>
<text y="49.1">from backroom stock in time</text>
<text y="66">Type: Rate</text>
<text y="84.3">Calculation:</text>
<text y="89.5">Gaps closed in 2 h / Gaps</text>
<text y="94.7">found x 100</text>
<text y="115">Value: 72.5%</text>
<text y="131.4">Owner:</text>
<text y="136.6">Store management</text>
</g>
<g id="n-c10-3" class="gr" transform="translate(1252 776)">
<rect class="b" x="-70" width="140" height="143"/>
<path class="d" d="M-70 32H70M-70 58H70M-70 71H70M-70 105H70M-70 122H70"/>
<text y="14.9">Level 3 driver: Direct supplier delivery</text>
<text y="20.1">reliability (% of ordered lines)</text>
<text y="43.9">Definition: Lines delivered in full and on time by</text>
<text y="49.1">direct suppliers to the stores</text>
<text y="66">Type: Rate</text>
<text y="84.3">Calculation:</text>
<text y="89.5">Lines delivered in full and on time / Ordered</text>
<text y="94.7">lines x 100</text>
<text y="115">Value: 90.2%</text>
<text y="131.4">Owner:</text>
<text y="136.6">Purchasing</text>
</g>
<g id="n-c12-3" class="gr" transform="translate(1551 776)">
<rect class="b" x="-44" width="88" height="143"/>
<path class="d" d="M-44 32H44M-44 58H44M-44 71H44M-44 105H44M-44 122H44"/>
<text y="14.9">Level 3 driver: Service level at</text>
<text y="20.1">the fish counter (%)</text>
<text y="43.9">Definition: Tickets served within</text>
<text y="49.1">the target waiting time</text>
<text y="66">Type: Rate</text>
<text y="84.3">Calculation:</text>
<text y="89.5">Tickets in target / All</text>
<text y="94.7">tickets x 100</text>
<text y="115">Value: 77.8%</text>
<text y="131.4">Owner:</text>
<text y="136.6">Fresh food team</text>
</g>
<g id="n-c13-3" class="gr" transform="translate(1674.5 776)">
<rect class="b" x="-42.5" width="85" height="143"/>
<path class="d" d="M-42.5 32H42.5M-42.5 58H42.5M-42.5 71H42.5M-42.5 105H42.5M-42.5 122H42.5"/>
<text y="14.9">Level 3 driver: Tickets per</text>
<text y="20.1">staffed counter hour</text>
<text y="43.9">Definition: Served tickets per</text>
<text y="49.1">staffed counter hour</text>
<text y="66">Type: Ratio</text>
<text y="84.3">Calculation:</text>
<text y="89.5">Tickets / Staffed counter</text>
<text y="94.7">hours</text>
<text y="115">Value: 18.5</text>
<text y="131.4">Owner:</text>
<text y="136.6">Workforce planning</text>
</g>
<g id="n-c14-3" class="gr" transform="translate(1806.5 776)">
<rect class="b" x="-54.5" width="109" height="143"/>
<path class="d" d="M-54.5 32H54.5M-54.5 58H54.5M-54.5 71H54.5M-54.5 105H54.5M-54.5 122H54.5"/>
<text y="14.9">Level 3 driver: Share of night</text>
<text y="20.1">replenishment (%)</text>
<text y="43.9">Definition: Deliveries replenished</text>
<text y="49.1">outside opening hours</text>
<text y="66">Type: Rate</text>
<text y="84.3">Calculation:</text>
<text y="89.5">Night replenished deliveries / All</text>
<text y="94.7">deliveries x 100</text>
<text y="115">Value: 38.0%</text>
<text y="131.4">Owner:</text>
<text y="136.6">Store logistics</text>
</g>
<g id="n-c16-3" class="gr" transform="translate(2070.5 776)">
<rect class="b" x="-50.5" width="101" height="143"/>
<path class="d" d="M-50.5 32H50.5M-50.5 58H50.5M-50.5 71H50.5M-50.5 105H50.5M-50.5 122H50.5"/>
<text y="14.9">Level 3 driver: Planogram changes</text>
<text y="20.1">implemented in time (%)</text>
<text y="43.9">Definition: Planogram changes done</text>
<text y="49.1">by the due date</text>
<text y="66">Type: Rate</text>
<text y="84.3">Calculation:</text>
<text y="89.5">Changes in time / All changes</text>
<text y="94.7">x 100</text>
<text y="115">Value: 85.3%</text>
<text y="131.4">Owner:</text>
<text y="136.6">Space management</text>
</g>

<!-- Level 3, row 4 (top 941) -->
<g id="n-c7-4" class="gr" transform="translate(846.5 941)">
<rect class="b" x="-46.5" width="93" height="122"/>
<path class="d" d="M-46.5 21H46.5M-46.5 46H46.5M-46.5 59H46.5M-46.5 89H46.5M-46.5 103H46.5"/>
<text y="9.4">Level 3 driver: Revenue share of</text>
<text y="14.6">clearance sales</text>
<text y="32.4">Definition: Revenue of articles</text>
<text y="37.6">marked down for clearance</text>
<text y="54">Type: Mix</text>
<text y="70.3">Calculation:</text>
<text y="75.5">Clearance revenue / Net revenue</text>
<text y="80.7">x 100</text>
<text y="97.5">Value: 0.7%</text>
<text y="111.4">Owner:</text>
<text y="116.6">Category management</text>
</g>
<g id="n-c8-4" class="gr" transform="translate(973 941)">
<rect class="b" x="-45" width="90" height="122"/>
<path class="d" d="M-45 21H45M-45 46H45M-45 59H45M-45 89H45M-45 103H45"/>
<text y="9.4">Level 3 driver: Shelf availability</text>
<text y="14.6">of drugstore articles (%)</text>
<text y="32.4">Definition: Drugstore articles</text>
<text y="37.6">found on shelf at the check</text>
<text y="54">Type: Rate</text>
<text y="70.3">Calculation:</text>
<text y="75.5">Drugstore articles on shelf /</text>
<text y="80.7">Listed articles x 100</text>
<text y="97.5">Value: 96.4%</text>
<text y="111.4">Owner:</text>
<text y="116.6">Non-food team</text>
</g>
</svg>
